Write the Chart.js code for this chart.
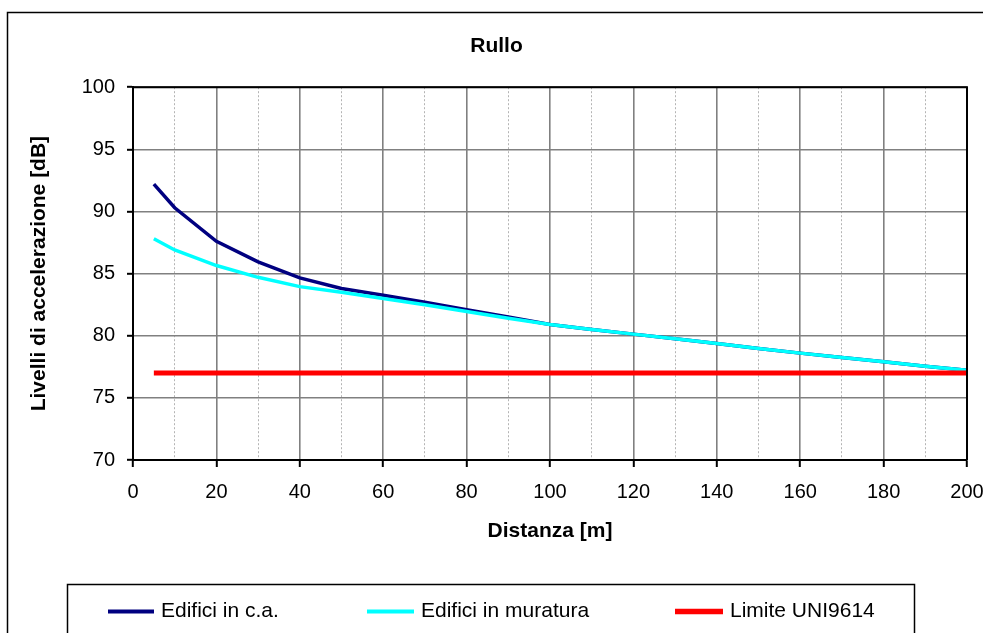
<!DOCTYPE html>
<html>
<head>
<meta charset="utf-8">
<script src="https://cdn.jsdelivr.net/npm/chart.js@4/dist/chart.umd.min.js"></script>
<style>
  body { margin: 0; background: #fff; }
  canvas { display: block; }
</style>
</head>
<body>
<canvas id="chart" width="983" height="633"></canvas>
<script>
'use strict'

//////////////////////////////////////////////////////////////
// data
//////////////////////////////////////////////////////////////
const distanze = [5, 10, 20, 30, 40, 50, 60, 70, 80, 90, 100, 110, 120, 130, 140, 150, 160, 170, 180, 190, 200]
const edifici_ca = [92.2, 90.3, 87.6, 85.95, 84.65, 83.8, 83.25, 82.7, 82.1, 81.5, 80.9, 80.5, 80.13, 79.75, 79.37, 78.97, 78.6, 78.25, 77.9, 77.55, 77.22]
const edifici_muratura = [87.8, 86.9, 85.65, 84.7, 83.95, 83.5, 83.0, 82.5, 81.95, 81.4, 80.9, 80.5, 80.13, 79.75, 79.37, 78.97, 78.6, 78.25, 77.9, 77.55, 77.22]
const limite_x = [5, 200]
const limite_y = [77, 77]

const series_labels = ['Edifici in c.a.', 'Edifici in muratura', 'Limite UNI9614']
const series_colors = ['#000080', '#00FFFF', '#FF0000']

const FONT = "'Liberation Sans', Arial, sans-serif"

function toPoints(xs, ys){
    let pts = []
    for(var i=0; i<xs.length; i++){
        pts.push({x: xs[i], y: ys[i]})
    }
    return pts
}

//////////////////////////////////////////////////////////////
// frame, plot border and legend box (excel style)
//////////////////////////////////////////////////////////////
const excelFrame = {
    id: 'excelFrame',
    beforeDraw(chart){
        const ctx = chart.ctx
        ctx.save()
        ctx.fillStyle = '#fff'
        ctx.fillRect(0, 0, chart.width, chart.height)
        ctx.strokeStyle = '#000'
        ctx.lineWidth = 1.5
        ctx.strokeRect(7.5, 12.5, chart.width + 10, chart.height + 10)
        ctx.restore()
    },
    afterDatasetsDraw(chart){
        const a = chart.chartArea
        const ctx = chart.ctx
        ctx.save()
        ctx.strokeStyle = '#000'
        ctx.lineWidth = 2
        ctx.beginPath()
        ctx.moveTo(a.left, a.top)
        ctx.lineTo(a.right, a.top)
        ctx.lineTo(a.right, a.bottom)
        ctx.stroke()
        ctx.restore()
    },
    afterDraw(chart){
        const ctx = chart.ctx
        ctx.save()
        ctx.strokeStyle = '#000'
        ctx.lineWidth = 1.5
        ctx.strokeRect(67.5, 584.5, 847, 100)
        // legend entries, x start/end of the sample line
        const slots = [[108, 154], [367, 414], [675, 723]]
        const y = 611.5
        ctx.font = '21px ' + FONT
        ctx.textBaseline = 'middle'
        ctx.fillStyle = '#000'
        chart.data.datasets.forEach((ds, i) => {
            ctx.strokeStyle = ds.borderColor
            ctx.lineWidth = ds.borderWidth + 0.5
            ctx.beginPath()
            ctx.moveTo(slots[i][0], y)
            ctx.lineTo(slots[i][1], y)
            ctx.stroke()
            ctx.fillText(ds.label, slots[i][1] + 7, y)
        })
        ctx.restore()
    }
}

//////////////////////////////////////////////////////////////
// chart
//////////////////////////////////////////////////////////////
const isMajor = ctx => ctx.tick != undefined && ctx.tick.value % 20 === 0

const chart = new Chart(document.getElementById('chart'), {
    type: 'line',
    data: {
        datasets: [
            {label: series_labels[0], data: toPoints(distanze, edifici_ca), borderColor: series_colors[0], borderWidth: 3.5, order: 2},
            {label: series_labels[1], data: toPoints(distanze, edifici_muratura), borderColor: series_colors[1], borderWidth: 3.5, order: 1},
            {label: series_labels[2], data: toPoints(limite_x, limite_y), borderColor: series_colors[2], borderWidth: 5, order: 0}
        ]
    },
    options: {
        responsive: false,
        animation: false,
        events: [],
        elements: {
            point: {radius: 0},
            line: {tension: 0, borderCapStyle: 'butt'}
        },
        layout: {padding: {left: 26, right: 16, top: 0, bottom: 73}},
        plugins: {
            legend: {display: false},
            tooltip: {enabled: false},
            title: {
                display: true,
                text: 'Rullo',
                color: '#000',
                font: {family: FONT, size: 21, weight: 'bold'},
                padding: {top: 34, bottom: 28}
            }
        },
        scales: {
            x: {
                type: 'linear',
                min: 0,
                max: 200,
                afterFit: s => {
                    s.height = 100
                    s.paddingLeft = 0
                    s.paddingRight = 0
                },
                ticks: {
                    stepSize: 10,
                    autoSkip: false,
                    maxRotation: 0,
                    padding: 13,
                    color: '#000',
                    font: {family: FONT, size: 20},
                    callback: v => (v % 20 === 0 ? v : '')
                },
                grid: {
                    color: ctx => isMajor(ctx) ? '#808080' : '#b4b4b4',
                    lineWidth: ctx => isMajor(ctx) ? 1.6 : 1,
                    tickLength: 7,
                    tickColor: ctx => isMajor(ctx) ? '#000' : 'rgba(0,0,0,0)',
                    tickWidth: 2
                },
                border: {
                    color: '#000',
                    width: 2,
                    dash: ctx => (ctx.tick != undefined && !isMajor(ctx)) ? [2, 2] : []
                },
                title: {
                    display: true,
                    text: 'Distanza [m]',
                    color: '#000',
                    font: {family: FONT, size: 21, weight: 'bold'},
                    padding: {top: 0, bottom: 16}
                }
            },
            y: {
                min: 70,
                max: 100,
                afterFit: s => { s.width = 107 },
                ticks: {
                    stepSize: 5,
                    padding: 12,
                    color: '#000',
                    font: {family: FONT, size: 20}
                },
                grid: {
                    color: '#808080',
                    lineWidth: 1.6,
                    tickLength: 6,
                    tickColor: '#000',
                    tickWidth: 2
                },
                border: {color: '#000', width: 2},
                title: {
                    display: true,
                    text: 'Livelli di accelerazione [dB]',
                    color: '#000',
                    font: {family: FONT, size: 21, weight: 'bold'},
                    padding: {top: 1, bottom: 0}
                }
            }
        }
    },
    plugins: [excelFrame]
})
console.log('chart area: ', chart.chartArea)
</script>
</body>
</html>
